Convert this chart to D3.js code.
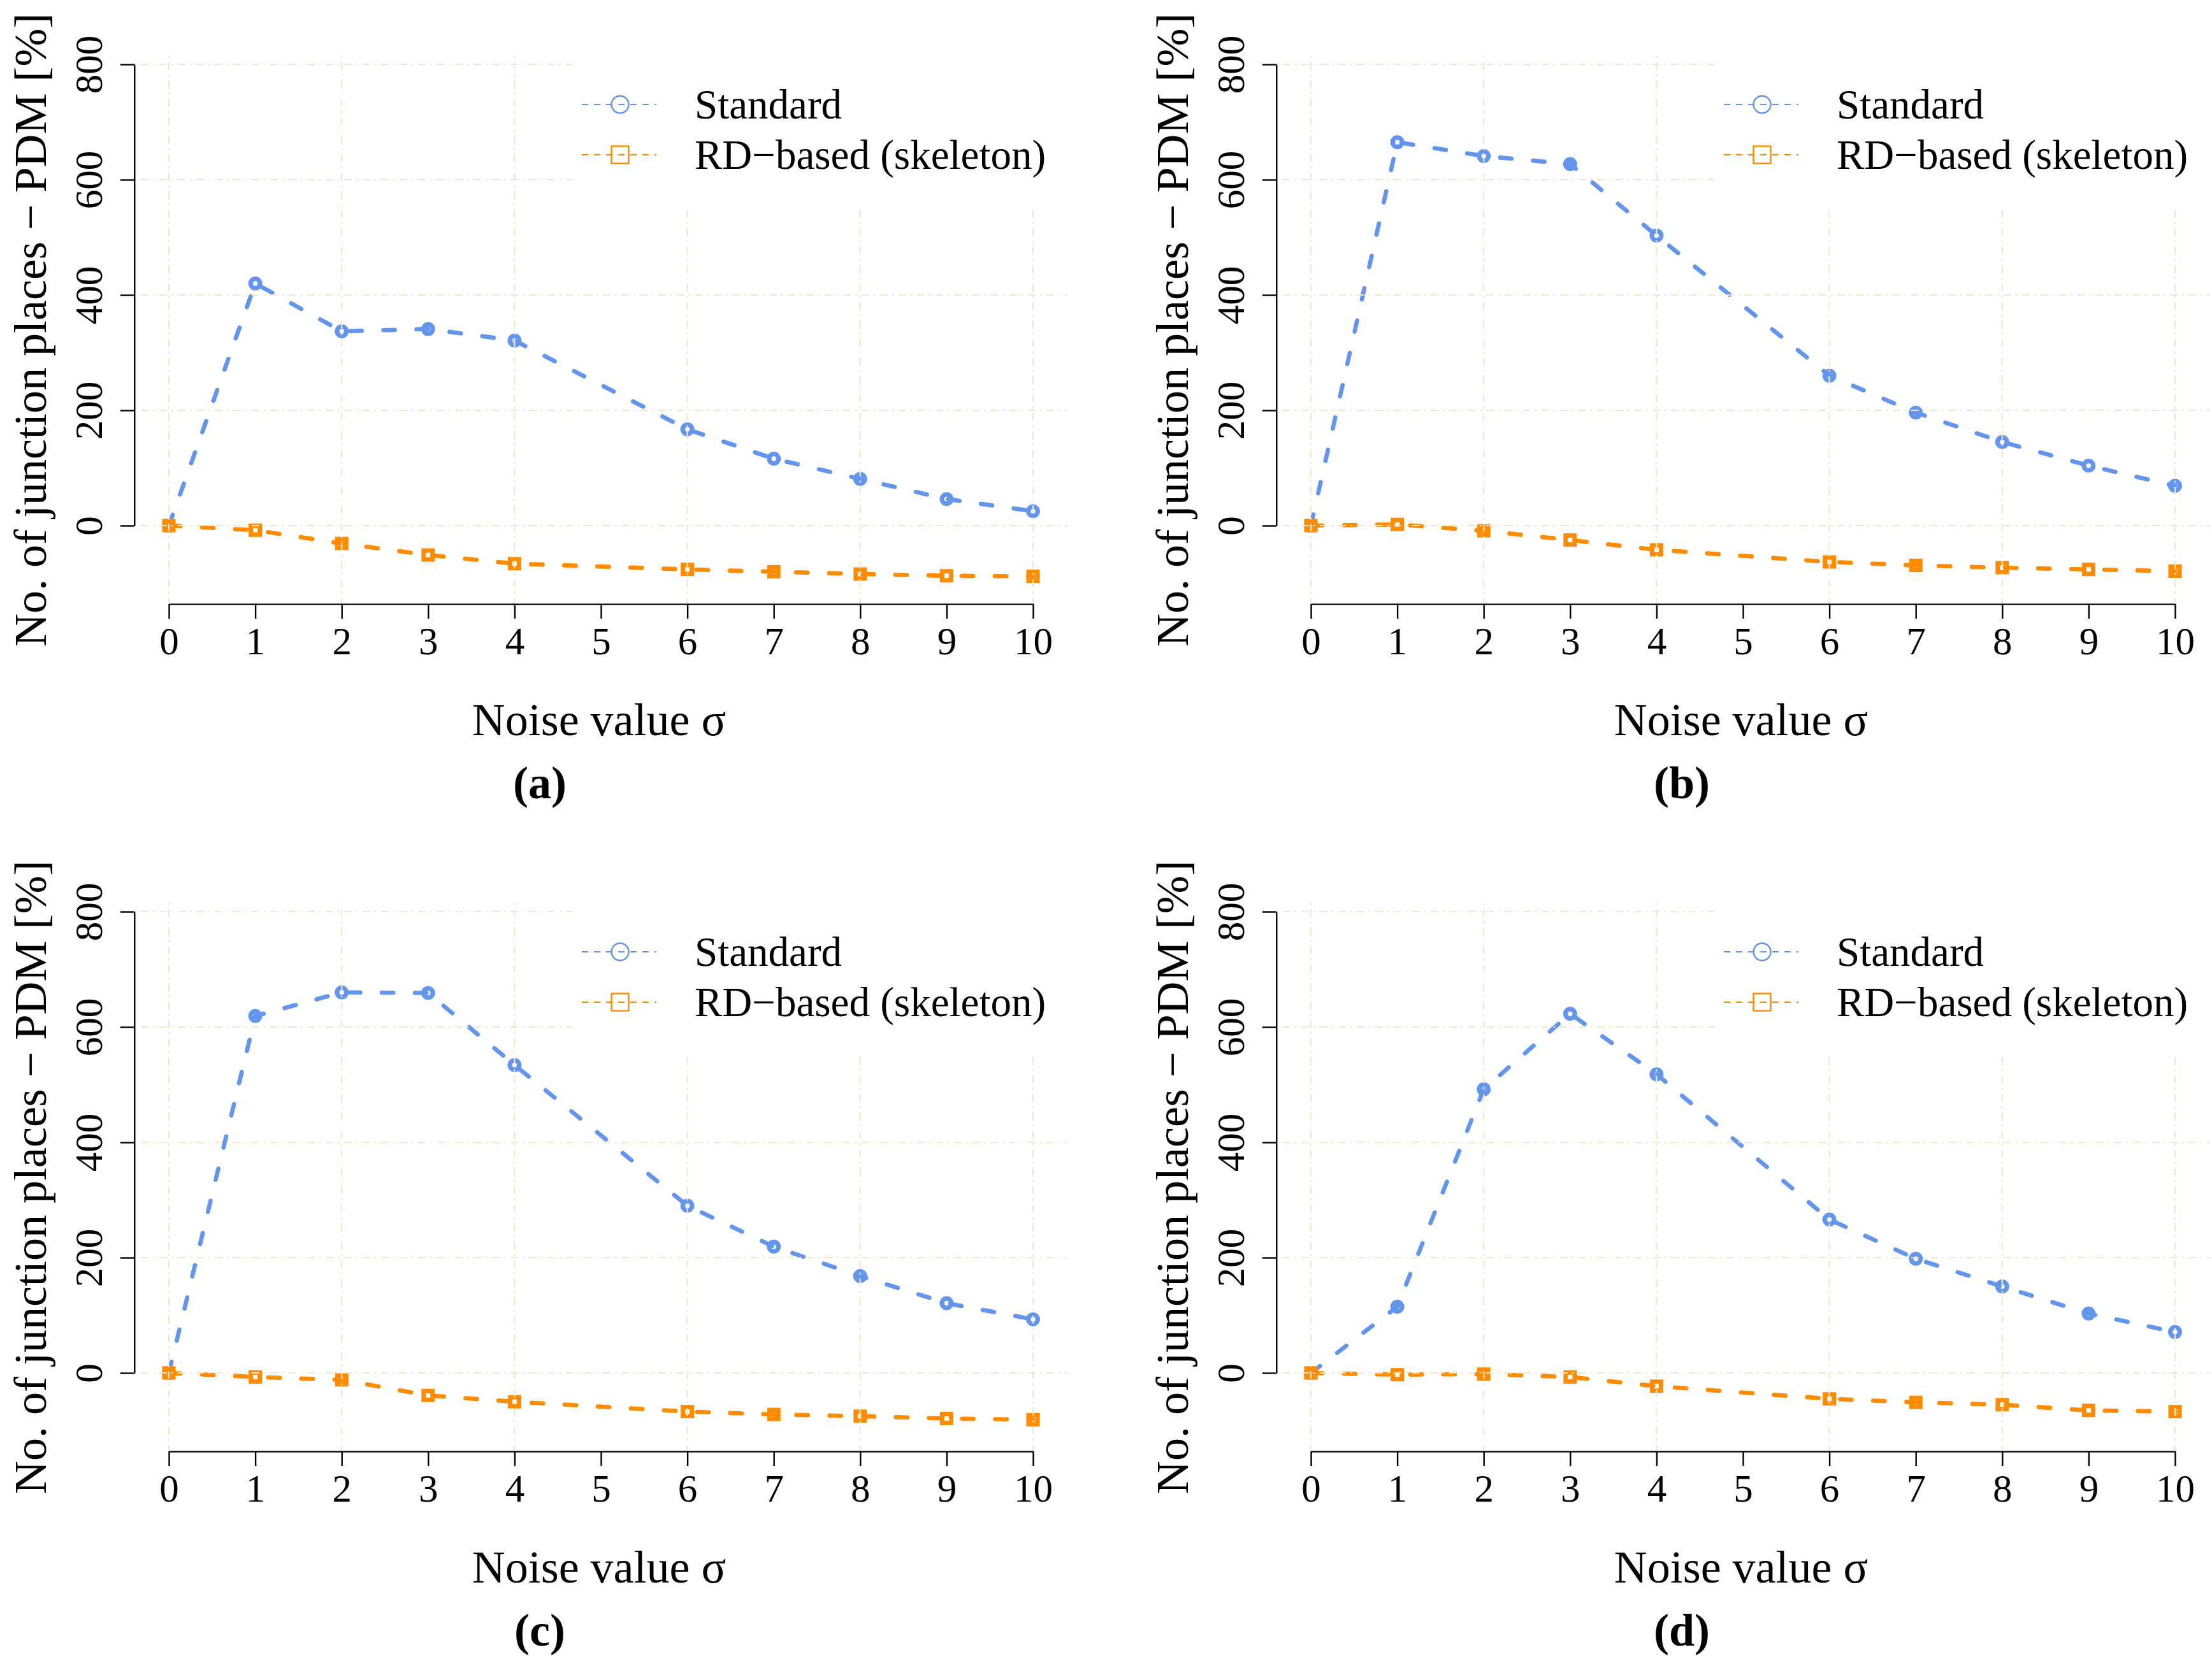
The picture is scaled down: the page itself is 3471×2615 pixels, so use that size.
<!DOCTYPE html>
<html>
<head>
<meta charset="utf-8">
<script src="https://cdn.jsdelivr.net/npm/d3@7/dist/d3.min.js"></script>
<style>
  html, body { margin: 0; padding: 0; background: #ffffff; }
  svg { display: block; }
  text { font-family: "Liberation Serif", "Times New Roman", serif; fill: #000; }
</style>
</head>
<body>
<script>
// ---------------- data ----------------
const sigma = [0, 1, 2, 3, 4, 6, 7, 8, 9, 10];
const xTicks = [0, 1, 2, 3, 4, 5, 6, 7, 8, 9, 10];
const yTicks = [0, 200, 400, 600, 800];
const gridX = [0, 2, 4, 6, 8, 10];
const gridY = [0, 200, 400, 600, 800];
const seriesNames = ["Standard", "RD\u2212based (skeleton)"];
const panelLabels = ["(a)", "(b)", "(c)", "(d)"];

const standardA = [0, 420, 337, 341, 321, 167, 116, 81, 46, 25];
const rdA       = [0, -8, -31, -51, -66, -76, -80, -84, -87, -88];
const standardB = [0, 665, 641, 627, 503, 260, 196, 145, 104, 69];
const rdB       = [0, 2, -9, -25, -42, -63, -69, -73, -76, -79];
const standardC = [0, 619, 660, 659, 534, 290, 219, 168, 121, 93];
const rdC       = [0, -7, -12, -39, -50, -67, -72, -75, -79, -81];
const standardD = [0, 115, 492, 623, 518, 266, 198, 150, 103, 71];
const rdD       = [0, -3, -2, -7, -23, -45, -51, -55, -65, -67];

const standardAll = [standardA, standardB, standardC, standardD];
const rdAll = [rdA, rdB, rdC, rdD];

// ---------------- layout ----------------
const W = 3471, H = 2615;
const colStd = "#6495ED", colRd = "#FF8C00", colGrid = "#EEE8CD";
const offX = [0, 1792, 0, 1792];
const offY = [0, 0, 1330, 1330];

const x = d3.scaleLinear().domain([0, 10]).range([265, 1621]);
const y = d3.scaleLinear().domain([0, 800]).range([825, 101]);
const plotL = x(-0.4), plotR = x(10.4);
const plotT = y(815), plotB = y(-136);

const svg = d3.select("body").append("svg")
  .attr("width", W).attr("height", H)
  .attr("viewBox", `0 0 ${W} ${H}`);

const line = d3.line().x((d, i) => x(sigma[i])).y(d => y(d));

for (let p = 0; p < 4; p++) {
  const g = svg.append("g").attr("transform", `translate(${offX[p]},${offY[p]})`);

  // data series
  const series = [
    { vals: standardAll[p], col: colStd, shape: "circle" },
    { vals: rdAll[p], col: colRd, shape: "square" }
  ];
  series.forEach(s => {
    g.append("path")
      .attr("d", line(s.vals))
      .attr("fill", "none")
      .attr("stroke", s.col)
      .attr("stroke-width", 6.7)
      .attr("stroke-linecap", "round")
      .attr("stroke-linejoin", "round")
      .attr("stroke-dasharray", "18,34");
  });
  series.forEach(s => {
    if (s.shape === "circle") {
      g.selectAll(null).data(s.vals).enter().append("circle")
        .attr("cx", (d, i) => x(sigma[i]))
        .attr("cy", d => y(d))
        .attr("r", 7.3)
        .attr("fill", "none")
        .attr("stroke", s.col)
        .attr("stroke-width", 7.3);
    } else {
      g.selectAll(null).data(s.vals).enter().append("rect")
        .attr("x", (d, i) => x(sigma[i]) - 7)
        .attr("y", d => y(d) - 7)
        .attr("width", 14).attr("height", 14)
        .attr("fill", "none")
        .attr("stroke", s.col)
        .attr("stroke-width", 7);
    }
  });

  // grid (drawn over the data, as in the reference)
  const grid = g.append("g").attr("stroke", colGrid).attr("stroke-width", 2.2)
    .attr("stroke-dasharray", "3,7,12,7").attr("fill", "none");
  grid.selectAll(null).data(gridX).enter().append("line")
    .attr("x1", d => x(d)).attr("x2", d => x(d))
    .attr("y1", plotT).attr("y2", plotB);
  grid.selectAll(null).data(gridY).enter().append("line")
    .attr("x1", plotL).attr("x2", plotR)
    .attr("y1", d => y(d)).attr("y2", d => y(d));

  // x axis
  const gx = g.append("g").attr("transform", `translate(0,${plotB})`)
    .call(d3.axisBottom(x).tickValues(xTicks).tickSize(23).tickSizeOuter(0).tickFormat(d3.format("d")));
  gx.select(".domain").attr("stroke", "#000").attr("stroke-width", 2.4);
  gx.selectAll(".tick line").attr("stroke", "#000").attr("stroke-width", 2.4);
  gx.selectAll(".tick text")
    .attr("y", 79).attr("dy", 0)
    .attr("font-family", "Liberation Serif").attr("font-size", 61).attr("fill", "#000");

  // y axis
  const gy = g.append("g").attr("transform", `translate(${plotL},0)`)
    .call(d3.axisLeft(y).tickValues(yTicks).tickSize(22).tickSizeOuter(0).tickFormat(d3.format("d")));
  gy.select(".domain").attr("stroke", "#000").attr("stroke-width", 2.4);
  gy.selectAll(".tick line").attr("stroke", "#000").attr("stroke-width", 2.4);
  gy.selectAll(".tick text")
    .attr("x", 0).attr("dy", 0)
    .attr("text-anchor", "middle")
    .attr("transform", "translate(-51,0) rotate(-90)")
    .attr("font-family", "Liberation Serif").attr("font-size", 61).attr("fill", "#000");

  // axis titles
  g.append("text")
    .attr("transform", `translate(72,${(plotT + plotB) / 2}) rotate(-90)`)
    .attr("text-anchor", "middle")
    .attr("font-size", 72)
    .text("No. of junction places \u2212 PDM [%]");
  g.append("text")
    .attr("x", (plotL + plotR) / 2 - 3).attr("y", 1154)
    .attr("text-anchor", "middle")
    .attr("font-size", 72)
    .text("Noise value \u03C3");
  g.append("text")
    .attr("x", 847).attr("y", 1253)
    .attr("text-anchor", "middle")
    .attr("font-size", 72)
    .attr("font-weight", "bold")
    .text(panelLabels[p]);

  // legend (white background hides grid)
  g.append("rect")
    .attr("x", 898).attr("y", plotT - 10)
    .attr("width", plotR - 898 + 10).attr("height", 324 - (plotT - 10))
    .attr("fill", "#fff");
  const legY = [164, 243];
  const legCols = [colStd, colRd];
  for (let k = 0; k < 2; k++) {
    g.append("line")
      .attr("x1", 913).attr("x2", 1030)
      .attr("y1", legY[k]).attr("y2", legY[k])
      .attr("stroke", legCols[k]).attr("stroke-width", 2)
      .attr("stroke-dasharray", "10,9");
    if (k === 0) {
      g.append("circle").attr("cx", 973).attr("cy", legY[k]).attr("r", 13.5)
        .attr("fill", "none").attr("stroke", legCols[k]).attr("stroke-width", 2.4);
    } else {
      g.append("rect").attr("x", 973 - 13.5).attr("y", legY[k] - 13.5)
        .attr("width", 27).attr("height", 27)
        .attr("fill", "none").attr("stroke", legCols[k]).attr("stroke-width", 2.4);
    }
    g.append("text")
      .attr("x", 1090).attr("y", legY[k] + 22)
      .attr("font-size", 65)
      .text(seriesNames[k]);
  }
}
</script>
</body>
</html>
